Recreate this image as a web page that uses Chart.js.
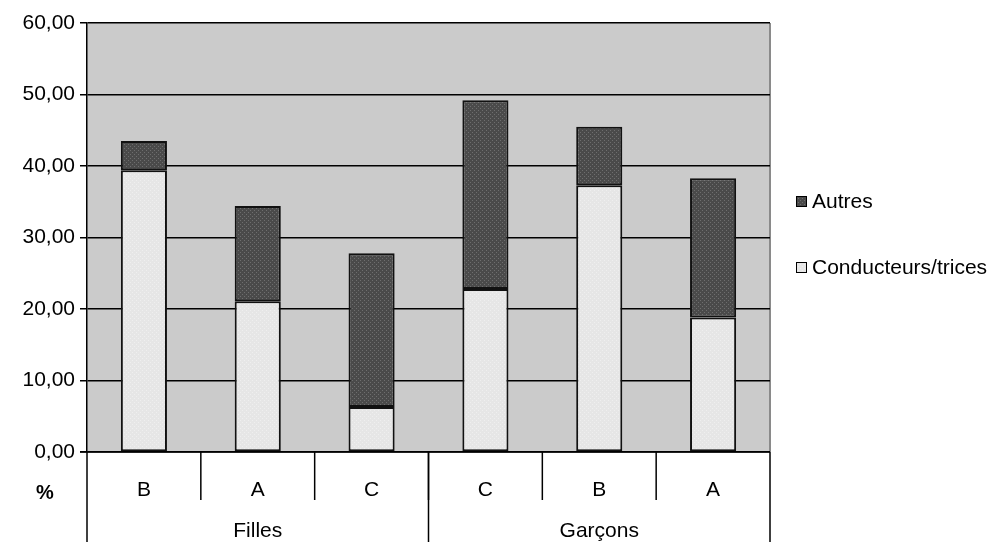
<!DOCTYPE html>
<html>
<head>
<meta charset="utf-8">
<script src="https://cdn.jsdelivr.net/npm/chart.js@4/dist/chart.umd.min.js"></script>
<style>
  html, body { margin: 0; padding: 0; background: #fff; }
  #wrap { width: 992px; height: 542px; }
</style>
</head>
<body>
<div id="wrap"><canvas id="chart" width="992" height="542"></canvas></div>
<script>
// data
const groups = ["Filles", "Garçons"];
const groupSizes = [3, 3];
const subLabels = ["B", "A", "C", "C", "B", "A"];
const conducteurs = [39.4, 21.1, 6.3, 22.8, 37.3, 18.8];
const autres = [4.1, 13.3, 21.5, 26.4, 8.2, 19.5];
const yTicks = [0, 10, 20, 30, 40, 50, 60];

const FONT = "'Liberation Sans', Arial, sans-serif";

// little textures like the old excel fills
function makePattern(base, dot, step) {
    const c = document.createElement('canvas');
    c.width = step; c.height = step;
    const g = c.getContext('2d');
    g.fillStyle = base;
    g.fillRect(0, 0, step, step);
    g.fillStyle = dot;
    g.fillRect(0, 0, 1, 1);
    g.fillRect(2, 2, 1, 1);
    return g.createPattern(c, 'repeat');
}
const darkFill = makePattern('#4a4a4a', '#6e6e6e', 4);
const lightFill = makePattern('#e6e6e6', '#efefef', 4);

const fmt = v => v.toFixed(2).replace('.', ',');

// gray plot area, excel style
const plotBg = {
    id: 'plotBg',
    beforeDraw(chart) {
        const { ctx, chartArea: a } = chart;
        ctx.save();
        ctx.fillStyle = '#cbcbcb';
        ctx.fillRect(a.left, a.top, a.right - a.left, a.bottom - a.top);
        ctx.strokeStyle = '#8a8a8a';
        ctx.lineWidth = 2;
        ctx.beginPath();
        ctx.moveTo(a.right, a.top);
        ctx.lineTo(a.right, a.bottom);
        ctx.stroke();
        ctx.restore();
    }
};

// two level category axis + legend
const extras = {
    id: 'extras',
    afterDraw(chart) {
        const { ctx, chartArea: a } = chart;
        const x = chart.scales.x;
        const n = subLabels.length;
        const half = (x.getPixelForValue(1) - x.getPixelForValue(0)) / 2;
        ctx.save();
        ctx.strokeStyle = '#000';
        ctx.lineWidth = 1.5;
        // axis line
        ctx.beginPath();
        ctx.moveTo(a.left - 7, a.bottom);
        ctx.lineTo(a.right, a.bottom);
        ctx.stroke();
        // short dividers between sub categories
        for (let i = 1; i < n; i++) {
            const px = x.getPixelForValue(i) - half;
            ctx.beginPath();
            ctx.moveTo(px, a.bottom);
            ctx.lineTo(px, a.bottom + 48);
            ctx.stroke();
        }
        // long dividers around groups
        let idx = 0;
        const edges = [0];
        groupSizes.forEach(s => { idx += s; edges.push(idx); });
        edges.forEach(e => {
            const px = e === 0 ? a.left : x.getPixelForValue(e - 1) + half;
            ctx.beginPath();
            ctx.moveTo(px, a.bottom);
            ctx.lineTo(px, chart.height);
            ctx.stroke();
        });
        // labels
        ctx.fillStyle = '#000';
        ctx.textAlign = 'center';
        ctx.textBaseline = 'middle';
        ctx.font = '21px ' + FONT;
        subLabels.forEach((l, i) => ctx.fillText(l, x.getPixelForValue(i), a.bottom + 38));
        let start = 0;
        groups.forEach((g, gi) => {
            const l = x.getPixelForValue(start) - half;
            const r = x.getPixelForValue(start + groupSizes[gi] - 1) + half;
            ctx.fillText(g, (l + r) / 2, a.bottom + 79);
            start += groupSizes[gi];
        });
        ctx.font = 'bold 20px ' + FONT;
        ctx.fillText('%', 45, a.bottom + 41);

        // legend
        ctx.textAlign = 'left';
        ctx.font = '21px ' + FONT;
        const items = [
            { text: 'Autres', fill: darkFill, y: 201 },
            { text: 'Conducteurs/trices', fill: lightFill, y: 267 }
        ];
        items.forEach(it => {
            ctx.fillStyle = it.fill;
            ctx.fillRect(796, it.y - 5, 11, 11);
            ctx.lineWidth = 1;
            ctx.strokeStyle = '#000';
            ctx.strokeRect(796.5, it.y - 4.5, 10, 10);
            ctx.fillStyle = '#000';
            ctx.fillText(it.text, 812, it.y + 1);
        });
        ctx.restore();
    }
};

new Chart(document.getElementById('chart'), {
    type: 'bar',
    data: {
        labels: subLabels,
        datasets: [{
            label: 'Conducteurs/trices',
            data: conducteurs,
            backgroundColor: lightFill,
            borderColor: '#111',
            borderWidth: 2,
            borderSkipped: false,
            barPercentage: 0.405,
            categoryPercentage: 1
        }, {
            label: 'Autres',
            data: autres,
            backgroundColor: darkFill,
            borderColor: '#111',
            borderWidth: 2,
            borderSkipped: false,
            barPercentage: 0.405,
            categoryPercentage: 1
        }]
    },
    options: {
        responsive: false,
        animation: false,
        layout: { padding: { top: 23, right: 222, bottom: 90, left: 0 } },
        plugins: {
            legend: { display: false },
            tooltip: { enabled: false }
        },
        scales: {
            x: {
                stacked: true,
                display: false
            },
            y: {
                stacked: true,
                min: 0,
                max: 60,
                afterBuildTicks: s => { s.ticks = yTicks.map(v => ({ value: v })); },
                afterFit: s => { s.width = 87; },
                border: { display: true, color: '#000', width: 1.5 },
                grid: { color: '#000', lineWidth: 1.5, tickLength: 7 },
                ticks: {
                    color: '#000',
                    padding: 5,
                    font: { family: FONT, size: 21 },
                    callback: v => fmt(v)
                }
            }
        }
    },
    plugins: [plotBg, extras]
});
</script>
</body>
</html>
